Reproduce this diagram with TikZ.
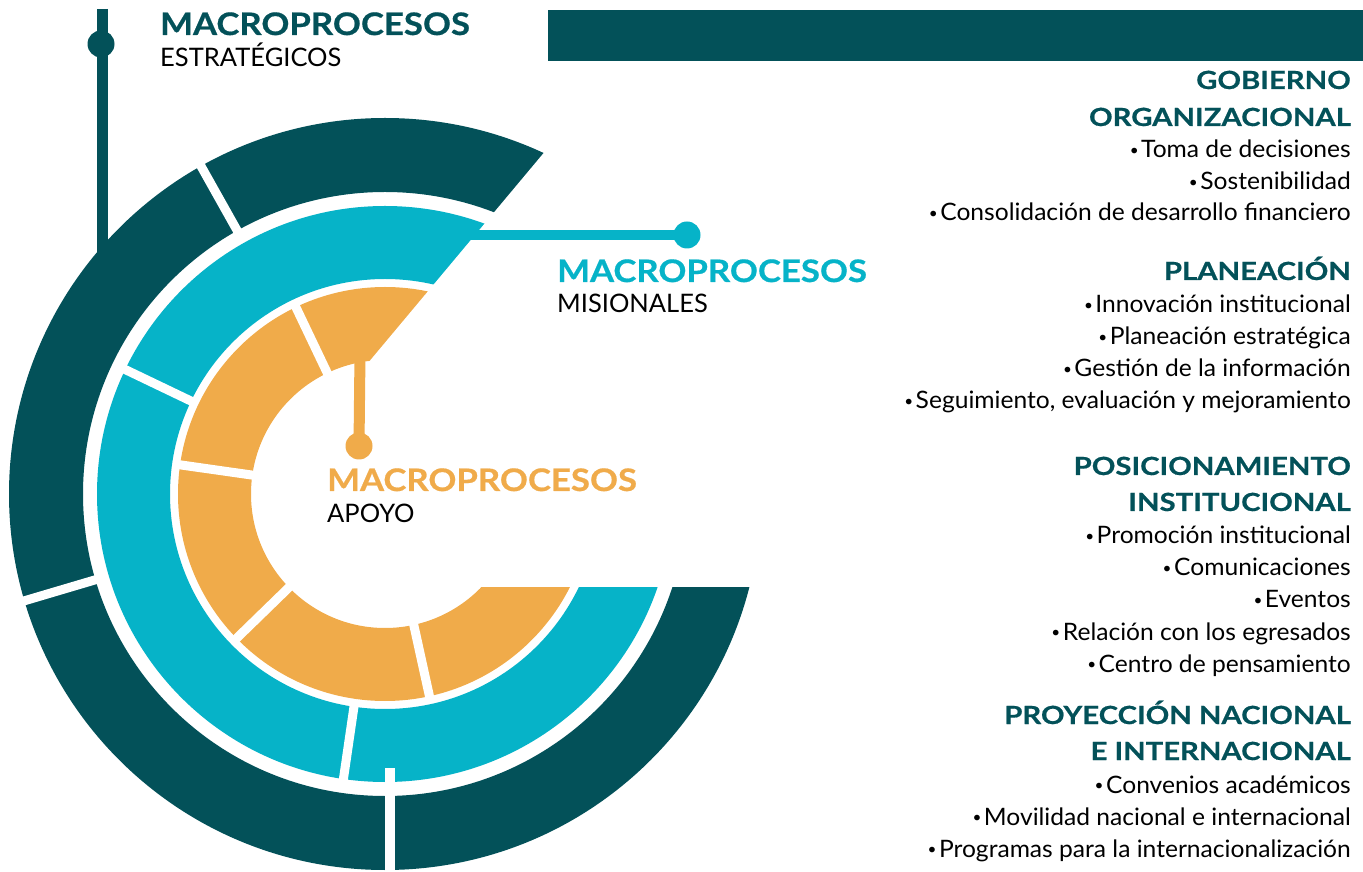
\documentclass[tikz,border=0pt]{standalone}
\usepackage{fontspec}
\setmainfont{Lato}
\newfontfamily\bigf[FakeStretch=1.12, BoldFeatures={FakeBold=0.6}]{Lato}
\newfontfamily\headf[FakeStretch=1.17, BoldFeatures={FakeBold=0.6}]{Lato}
\newfontfamily\itemf[FakeStretch=1.025]{Lato}
\definecolor{dk}{HTML}{035159}
\definecolor{cy}{HTML}{06B3C8}
\definecolor{og}{HTML}{F0AB4A}
\tikzset{
  sep/.style={white, line width=9pt},
  dot/.style={circle, inner sep=0pt, minimum size=27pt},
  big/.style={anchor=base west, inner sep=0pt, font=\bigf\fontsize{31}{36}\selectfont\bfseries},
  sub/.style={anchor=base west, inner sep=0pt, font=\fontsize{25.5}{30}\selectfont, text=black},
  head/.style={anchor=base east, inner sep=0pt, font=\headf\fontsize{25}{30}\selectfont\bfseries, text=dk},
  item/.style={anchor=base east, inner sep=0pt, font=\itemf\fontsize{24}{28}\selectfont, text=black}
}
\newcommand{\bul}{\raisebox{2.5pt}{\fontsize{15}{15}\selectfont\textbullet}\hspace{2.5pt}}
\begin{document}
\begin{tikzpicture}[x=1pt,y=1pt]
\useasboundingbox (0,0) rectangle (1363,871);
\clip (0,0) rectangle (1363,871);
% strategic connector (behind the ring)
\coordinate (dktop) at (102,862);
\coordinate (dkbot) at (102,600);
\draw[dk, line width=11pt] (dktop) -- (dkbot);
\node[dot, fill=dk] (dkdot) at (101,827) {};
% rings
\coordinate (C) at (385,377);
\fill[dk, even odd rule] (C) circle[radius=376pt] (C) circle[radius=302pt];
\fill[cy, even odd rule] (C) circle[radius=288pt] (C) circle[radius=215pt];
\fill[og, even odd rule] (C) circle[radius=207pt] (C) circle[radius=134pt];
% separators
\begin{scope}[shift={(C)}]
  \draw[sep] (119.3:296pt) -- (119.3:382pt);
  \draw[sep] (196.5:296pt) -- (196.5:382pt);
  \draw[sep] (154.4:210pt) -- (154.4:293pt);
  \draw[sep] (261.7:210pt) -- (261.7:293pt);
  \draw[sep] (115.5:128pt) -- (115.5:211pt);
  \draw[sep] (171.9:128pt) -- (171.9:213pt);
  \draw[sep] (224.2:128pt) -- (224.2:211pt);
  \draw[sep] (282.4:128pt) -- (282.4:211pt);
\end{scope}
\fill[white] (385,0) rectangle (395,103);
% cut-away wedge
\fill[white] (320.3,451) -- (713.5,921) -- (830,921) -- (830,284) -- (430,284) -- cycle;
% top bar
\fill[dk] (548,810) rectangle (1363,861);
% missional connector
\node[dot, fill=cy] (cydot) at (687,636) {};
\coordinate (cystart) at (468,636);
\draw[cy, line width=10pt] (cystart) -- (cydot.center);
% support connector
\node[dot, fill=og] (ogdot) at (359,425) {};
\coordinate (ogstart) at (360,517);
\draw[og, line width=11pt] (ogstart) -- (ogdot.center);
% labels
\node[big, text=dk] (t1) at (160,836) {MACROPROCESOS};
\node[sub] (t1b) at (160,804) {ESTRATÉGICOS};
\node[big, text=cy] (t2) at (557,589) {MACROPROCESOS};
\node[sub] (t2b) at (557,558) {MISIONALES};
\node[big, text=og] (t3) at (327,380) {MACROPROCESOS};
\node[sub] (t3b) at (327,348) {APOYO};
% right column
\node[head] (h1a) at (1351,782) {GOBIERNO};
\node[head] (h1b) at (1351,745) {ORGANIZACIONAL};
\node[item] (i11) at (1351,713) {\bul Toma de decisiones};
\node[item] (i12) at (1351,681) {\bul Sostenibilidad};
\node[item] (i13) at (1351,650) {\bul Consolidación de desarrollo financiero};
\node[head] (h2) at (1351,591) {PLANEACIÓN};
\node[item] (i21) at (1351,558) {\bul Innovación institucional};
\node[item] (i22) at (1351,526) {\bul Planeación estratégica};
\node[item] (i23) at (1351,494) {\bul Gestión de la información};
\node[item] (i24) at (1351,462) {\bul Seguimiento, evaluación y mejoramiento};
\node[head] (h3a) at (1351,396) {POSICIONAMIENTO};
\node[head] (h3b) at (1351,360) {INSTITUCIONAL};
\node[item] (i31) at (1351,327) {\bul Promoción institucional};
\node[item] (i32) at (1351,295) {\bul Comunicaciones};
\node[item] (i33) at (1351,263) {\bul Eventos};
\node[item] (i34) at (1351,231) {\bul Relación con los egresados};
\node[item] (i35) at (1351,199) {\bul Centro de pensamiento};
\node[head] (h4a) at (1351,147) {PROYECCIÓN NACIONAL};
\node[head] (h4b) at (1351,111) {E INTERNACIONAL};
\node[item] (i41) at (1351,78) {\bul Convenios académicos};
\node[item] (i42) at (1351,46) {\bul Movilidad nacional e internacional};
\node[item] (i43) at (1351,14) {\bul Programas para la internacionalización};
\end{tikzpicture}
\end{document}
